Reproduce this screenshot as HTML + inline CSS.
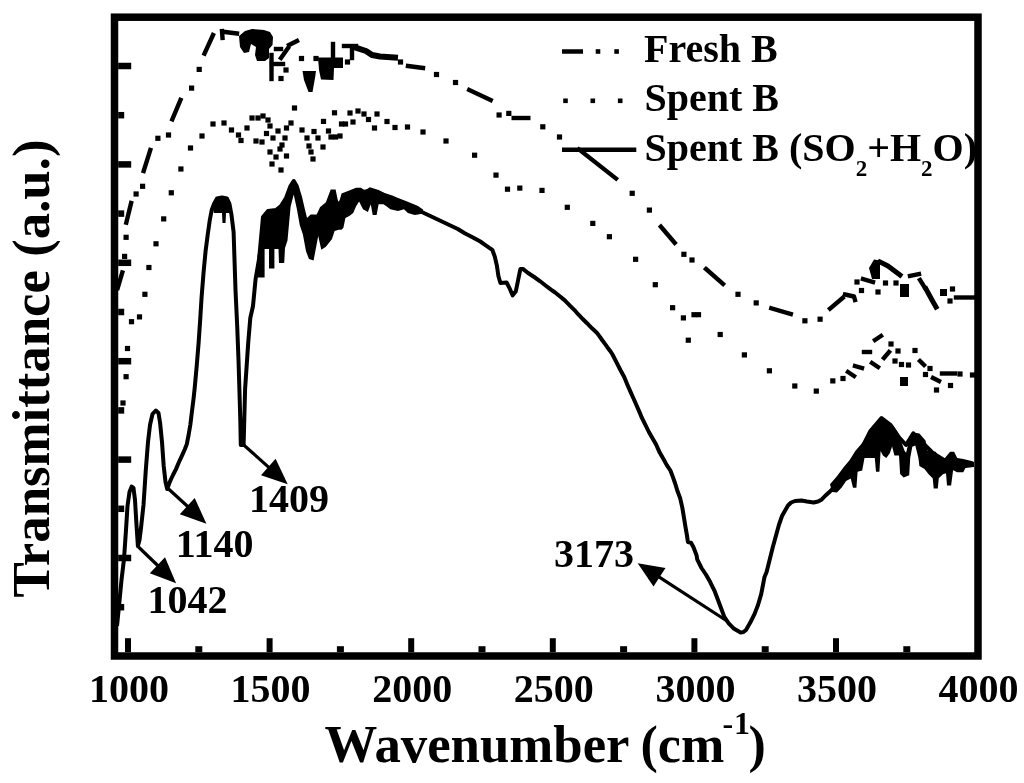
<!DOCTYPE html>
<html><head><meta charset="utf-8"><style>
html,body{margin:0;padding:0;background:#fff;}
svg{display:block;will-change:transform;}
text{font-family:"Liberation Serif",serif;font-weight:bold;fill:#000;}
</style></head><body>
<svg width="1024" height="783" viewBox="0 0 1024 783">
<rect x="0" y="0" width="1024" height="783" fill="#fff"/>
<polyline points="117,626 119,606 121.5,580 124,559 126,530 127.5,506 129.5,492 131.7,486.5 133.5,488 135,500 136.5,525 137.9,546 139.5,540 141,528 143.5,505 145.8,470 148,442 150,425 152.5,414 155.8,410.5 158.5,413 160.1,423 162,442 163.7,466 165.5,482 167.2,489 170,481.4 173,475 176,469.1 179,462 182.1,455.3 184.7,449.5 186.7,444.6 188.6,435 190.3,425 192,411 193.4,400 194.6,389 196.8,365 198.6,343 200.3,318 201.6,297 203.6,272 205.6,251 207.8,234 209.8,220 211.7,210 214,204 217,198.5 222,197.5 227,198.5 229.5,204 231.5,215 233.6,232 235.5,290 237.2,326 238.5,360 239.5,393 240.3,420 240.8,445 243.6,445 243.9,434 245.1,389 248.2,343 250.3,318 253,306 255.6,279 259.2,258 262.8,219 263,217 268,211 276,210 281,206 286,198 290.5,186 293.7,181 296.7,186 300,197 303,210 306,222 310,225 316,226 322,214 329,206 334,198 338,205 344,199 356,193 369,191 381.6,194 394.3,200.6 407,206.5 419.7,211 432.4,217 445.1,223 457.8,229 464.7,233.3 472.5,237.2 480.3,241.5 486.5,245.8 492.3,249.8 494.8,256.6 496.9,265.8 498.4,276 500.4,283 506.6,282.5 509.1,287.3 512.7,295.4 515.8,291.3 518.3,279.1 520.4,269 522.9,268.9 528.1,273 534.2,277 540.2,281.3 545.5,285.5 551,289.7 555.1,292.5 559.2,295.8 564.8,300.4 570.4,306.1 575.5,311.2 578.1,314.2 583,319.3 587,323.2 592,328.3 596.8,332.7 599.4,336.1 602.1,340 604.6,343.4 607.3,347.2 610,350.7 612.5,354.5 616.5,362.3 620.4,370 624.2,377 627.3,384.5 630.3,391.4 633.4,398.3 636.5,405.2 639.5,412.1 641.8,417.7 645.4,424.8 648.9,432 652.5,438.3 656.1,444.5 659.7,452.6 663.3,458.8 666.8,465.1 670.4,470.5 673.1,477.6 675,483 677.2,490.2 680.2,498.4 682.3,507.6 683.8,516.7 685.3,525.9 686.9,535.1 687.9,542 691,542.8 693.5,547.3 696.6,555.5 697.2,559.3 701.5,568 705.9,574.5 710.2,582.1 714.5,590.8 717.8,599.5 721.1,608.2 724.3,616.9 728.7,623.4 734.1,628.8 740.6,632.6 743.5,632 746,630 750.4,622.3 754.7,613.6 758,605 761.2,594.1 764.5,577 766.6,572 772.7,547.5 778.9,525 782,516 785,510.7 788,505.5 791.1,502.5 795,501 801.3,500.5 807,501.5 813.6,502.5 818,501.5 821.8,499.4 825,496 830,491.5 835,486 841.5,477 851.8,462 862,447.7 870.2,431.3 881.5,418 890.7,425.1 899,437.4 906,445 913.3,433.3 923.6,443.6 933.8,453.8 944,460 954.3,462 974,464" fill="none" stroke="#000" stroke-width="4" stroke-linejoin="round"/>
<polygon points="262,240 262.8,218.6 263,217 268.4,210 272.2,209 276.8,210 281.4,205 286,197.6 290.6,185.3 293.7,180.7 296.7,185.3 299.8,196 302.9,210 304.4,220.6 310.6,214.5 316.7,214.5 320,207.2 325.9,202.3 330.7,189.6 335.6,189.6 338.6,204.3 341.5,193.6 349.3,190.6 356.1,187.7 361,187.7 364.9,190.6 369.8,187.2 378.6,190.1 384.5,193.1 392.3,195.5 398.1,198 405.9,200.9 413.8,204.3 418,206 423,209.5 423,213.5 418,214.5 414.7,215 407.9,213.1 404,209.2 398.1,211.1 390.3,209.2 386.4,206.3 383.5,204.3 378.6,204.3 376.6,215 372.7,215 370.8,204.3 367.9,212.1 363,209.2 359.1,201.4 356.1,206.3 353.2,213.1 349.3,216 345.4,218 343.4,227.7 341.5,229.7 338.6,229.7 334.6,231 332,239 325.9,246.7 321.3,249.8 318.2,236 313.6,260.5 309,259 306,251.3 302.9,234.4 299.8,225.2 296.7,208.3 293.7,194.5 290.6,206.8 287.5,240.6 285,248 284.2,263 279,263 278.5,249 274.4,249 274.4,268.6 269,268.6 269,249 264.6,249 264.6,277.5 257.4,277.5 257.4,256 262,240" fill="#000"/>
<polygon points="212,206 217,197 228,197 229.5,205 229.5,213 226,213 225.5,223 222.5,223 222,213 214,213" fill="#000"/>
<polygon points="830,484.3 836.9,476.3 843.8,467.1 849.5,460.2 855.3,451 862.2,442.9 867.9,434.9 872.5,425.7 878.3,422.2 881.7,416.5 886.3,422.2 893.2,425.7 897.8,432.6 901.3,441.8 904.7,451 906.1,452.8 910.2,435.4 913.3,432.4 919.4,433.4 925.5,440.5 927.6,450.8 935.8,451.8 938.8,457.9 944.9,457.9 950.1,451.8 954.1,451.8 957.2,457.9 963.3,458.9 971.5,461 974,462 974,467.1 965.4,468.1 963.3,472.2 957.2,472.2 953.1,470.2 951.1,485.5 947,485.5 946,473.2 942.9,474.2 938.8,478.3 937.8,488.5 933.7,488.5 932.7,478.3 928.6,474.2 924.5,469.1 919.4,466.1 918.4,457.9 915.3,445.6 912.3,446.7 910.2,457.9 909.2,475.3 903.6,477.4 900.1,474 899,455.6 894.4,455.6 892.1,446.4 889.8,453.3 886.3,457.9 882.9,455.6 880.6,451 879.4,471.7 876,471.7 874.8,457.9 864.5,457.9 862.2,470.5 857.6,471.7 856.4,487.8 853,487.8 850.7,478.6 846.1,480.9 841.5,487.8 836.9,492.4 832,492" fill="#000"/>
<polyline points="117.7,288 122.3,272.5" fill="none" stroke="#000" stroke-width="4.4" stroke-linecap="square" stroke-linejoin="round"/>
<rect x="122" y="253.8" width="5.2" height="5.2"/>
<rect x="123.5" y="234.7" width="5.2" height="5.2"/>
<polyline points="126.3,222.7 131.1,203" fill="none" stroke="#000" stroke-width="4.4" stroke-linecap="square" stroke-linejoin="round"/>
<rect x="133.5" y="191.4" width="5.2" height="5.2"/>
<rect x="140" y="183.7" width="5.2" height="5.2"/>
<polyline points="143.7,171 150.3,150" fill="none" stroke="#000" stroke-width="4.4" stroke-linecap="square" stroke-linejoin="round"/>
<rect x="155.3" y="135.7" width="5.2" height="5.2"/>
<rect x="165.9" y="132.4" width="5.2" height="5.2"/>
<polyline points="172.3,119.3 180.5,100" fill="none" stroke="#000" stroke-width="4.4" stroke-linecap="square" stroke-linejoin="round"/>
<rect x="189" y="85.5" width="5.2" height="5.2"/>
<rect x="196.6" y="66.8" width="5.2" height="5.2"/>
<polyline points="204.5,53.7 213,35" fill="none" stroke="#000" stroke-width="4.4" stroke-linecap="square" stroke-linejoin="round"/>
<polyline points="222,31 222.5,38" fill="none" stroke="#000" stroke-width="4.4" stroke-linecap="square" stroke-linejoin="round"/>
<polyline points="225,32 237,33.5" fill="none" stroke="#000" stroke-width="4.4" stroke-linecap="square" stroke-linejoin="round"/>
<polygon points="239,36 245,31 252,29 258,29.5 264,30 270,32 273,37 272.5,45 269,49 269,58 265,61 257,61 255,55 256,47 251,44 249,52 244,53 240,47"/>
<polyline points="271.5,55 271.5,79" fill="none" stroke="#000" stroke-width="4.4" stroke-linecap="square" stroke-linejoin="round"/>
<polyline points="272,64 283,64" fill="none" stroke="#000" stroke-width="4.4" stroke-linecap="square" stroke-linejoin="round"/>
<polyline points="281,58 288,48" fill="none" stroke="#000" stroke-width="4.4" stroke-linecap="square" stroke-linejoin="round"/>
<polyline points="276,49 281,49" fill="none" stroke="#000" stroke-width="4.4" stroke-linecap="square" stroke-linejoin="round"/>
<rect x="283.4" y="67.4" width="5.2" height="5.2"/>
<rect x="278.4" y="75.9" width="5.2" height="5.2"/>
<polyline points="289,45 297,41" fill="none" stroke="#000" stroke-width="4.4" stroke-linecap="square" stroke-linejoin="round"/>
<rect x="298.9" y="55.9" width="5.2" height="5.2"/>
<polygon points="302.5,71 316,71 315,78 312.5,92 308.5,92 304,80"/>
<rect x="313.4" y="55.9" width="5.2" height="5.2"/>
<polygon points="318,57.5 343,57.5 343,68 334,68 333.5,80 321,79.5 319,70"/>
<polyline points="333,44 333,58" fill="none" stroke="#000" stroke-width="4.4" stroke-linecap="square" stroke-linejoin="round"/>
<rect x="344.9" y="59.4" width="5.2" height="5.2"/>
<polyline points="344,46 356,46" fill="none" stroke="#000" stroke-width="4.4" stroke-linecap="square" stroke-linejoin="round"/>
<polyline points="352,48 352,58" fill="none" stroke="#000" stroke-width="4.4" stroke-linecap="square" stroke-linejoin="round"/>
<polyline points="357,48 366,51 372,55 380,56.5 395,57.5" fill="none" stroke="#000" stroke-width="6" stroke-linecap="square" stroke-linejoin="round"/>
<rect x="397.9" y="59.4" width="5.2" height="5.2"/>
<polyline points="408,66 423,68" fill="none" stroke="#000" stroke-width="4.4" stroke-linecap="square" stroke-linejoin="round"/>
<rect x="433.9" y="71.9" width="5.2" height="5.2"/>
<rect x="452.9" y="79.9" width="5.2" height="5.2"/>
<polyline points="469.2,90 490.7,100" fill="none" stroke="#000" stroke-width="4.4" stroke-linecap="square" stroke-linejoin="round"/>
<rect x="496.5" y="112.4" width="5.2" height="5.2"/>
<rect x="506.2" y="110.8" width="5.2" height="5.2"/>
<polyline points="513.7,118 528.3,118" fill="none" stroke="#000" stroke-width="4.4" stroke-linecap="square" stroke-linejoin="round"/>
<rect x="540.2" y="124.2" width="5.2" height="5.2"/>
<rect x="556.9" y="134.4" width="5.2" height="5.2"/>
<polyline points="579,149.5 616,178.5" fill="none" stroke="#000" stroke-width="4.4" stroke-linecap="square" stroke-linejoin="round"/>
<rect x="629.6" y="190.7" width="5.2" height="5.2"/>
<rect x="646.8" y="207.5" width="5.2" height="5.2"/>
<polyline points="660.9,226.7 674.7,242.8" fill="none" stroke="#000" stroke-width="4.4" stroke-linecap="square" stroke-linejoin="round"/>
<rect x="681.3" y="251.7" width="5.2" height="5.2"/>
<rect x="689.4" y="257.4" width="5.2" height="5.2"/>
<polyline points="706,269 723,284" fill="none" stroke="#000" stroke-width="4.4" stroke-linecap="square" stroke-linejoin="round"/>
<rect x="735.4" y="291.7" width="5.2" height="5.2"/>
<rect x="753.6" y="300.3" width="5.2" height="5.2"/>
<polyline points="771.3,308.3 790.8,314" fill="none" stroke="#000" stroke-width="4.4" stroke-linecap="square" stroke-linejoin="round"/>
<rect x="802.3" y="318.2" width="5.2" height="5.2"/>
<rect x="817.5" y="316.6" width="5.2" height="5.2"/>
<polyline points="830,308.6 842.7,297.9" fill="none" stroke="#000" stroke-width="4.4" stroke-linecap="square" stroke-linejoin="round"/>
<polyline points="845,294.5 854,296.5 855,300" fill="none" stroke="#000" stroke-width="4.4" stroke-linecap="square" stroke-linejoin="round"/>
<rect x="854.4" y="279.4" width="5.2" height="5.2"/>
<rect x="858.9" y="287.9" width="5.2" height="5.2"/>
<polyline points="863,279 873,282" fill="none" stroke="#000" stroke-width="4.4" stroke-linecap="square" stroke-linejoin="round"/>
<polygon points="869,268 874,259.5 880,260.5 880,279 872,279"/>
<polyline points="880,262 888,266 900,275" fill="none" stroke="#000" stroke-width="5" stroke-linecap="square" stroke-linejoin="round"/>
<rect x="875.4" y="289.4" width="5.2" height="5.2"/>
<rect x="882.9" y="280.4" width="5.2" height="5.2"/>
<rect x="893.4" y="280.4" width="5.2" height="5.2"/>
<polygon points="900,284 909,284 909,297 900,297"/>
<polyline points="910,276 919,274" fill="none" stroke="#000" stroke-width="4.4" stroke-linecap="square" stroke-linejoin="round"/>
<polyline points="920,280 925,288" fill="none" stroke="#000" stroke-width="4.4" stroke-linecap="square" stroke-linejoin="round"/>
<polyline points="926,289 932,300 936,307" fill="none" stroke="#000" stroke-width="5" stroke-linecap="square" stroke-linejoin="round"/>
<polygon points="940,289 947,289 947,296 940,296"/>
<rect x="947.4" y="298.4" width="5.2" height="5.2"/>
<rect x="949.9" y="286.4" width="5.2" height="5.2"/>
<polyline points="956,297.5 974,297.5" fill="none" stroke="#000" stroke-width="4.4" stroke-linecap="square" stroke-linejoin="round"/>
<rect x="120.4" y="400.4" width="5.2" height="5.2"/>
<rect x="123.5" y="374.1" width="5.2" height="5.2"/>
<rect x="124.9" y="345.9" width="5.2" height="5.2"/>
<rect x="128.9" y="319.1" width="5.2" height="5.2"/>
<rect x="136.9" y="314.3" width="5.2" height="5.2"/>
<rect x="142.3" y="291.7" width="5.2" height="5.2"/>
<rect x="146.3" y="264.9" width="5.2" height="5.2"/>
<rect x="153.4" y="241.2" width="5.2" height="5.2"/>
<rect x="161.1" y="216.3" width="5.2" height="5.2"/>
<rect x="168.7" y="190.2" width="5.2" height="5.2"/>
<rect x="178.3" y="166.4" width="5.2" height="5.2"/>
<rect x="187.9" y="145.4" width="5.2" height="5.2"/>
<rect x="199.4" y="133.4" width="5.2" height="5.2"/>
<rect x="210.4" y="121.4" width="5.2" height="5.2"/>
<rect x="221.4" y="120.4" width="5.2" height="5.2"/>
<rect x="228.9" y="127.4" width="5.2" height="5.2"/>
<rect x="235.9" y="132.4" width="5.2" height="5.2"/>
<rect x="238.4" y="137.9" width="5.2" height="5.2"/>
<rect x="244.4" y="125.4" width="5.2" height="5.2"/>
<rect x="249.4" y="115.4" width="5.2" height="5.2"/>
<rect x="255.4" y="115.4" width="5.2" height="5.2"/>
<rect x="260.4" y="113.4" width="5.2" height="5.2"/>
<rect x="265.4" y="117.4" width="5.2" height="5.2"/>
<rect x="267.4" y="123.4" width="5.2" height="5.2"/>
<rect x="253.4" y="138.4" width="5.2" height="5.2"/>
<rect x="259.4" y="139.4" width="5.2" height="5.2"/>
<rect x="263.9" y="130.9" width="5.2" height="5.2"/>
<rect x="270.4" y="135.4" width="5.2" height="5.2"/>
<rect x="275.4" y="128.4" width="5.2" height="5.2"/>
<rect x="283.9" y="125.4" width="5.2" height="5.2"/>
<rect x="288.4" y="120.4" width="5.2" height="5.2"/>
<rect x="282.4" y="135.4" width="5.2" height="5.2"/>
<rect x="279.4" y="142.4" width="5.2" height="5.2"/>
<rect x="277.4" y="146.4" width="5.2" height="5.2"/>
<rect x="267.4" y="149.4" width="5.2" height="5.2"/>
<rect x="273.4" y="154.4" width="5.2" height="5.2"/>
<rect x="283.9" y="153.4" width="5.2" height="5.2"/>
<rect x="269.4" y="161.4" width="5.2" height="5.2"/>
<rect x="278.4" y="167.4" width="5.2" height="5.2"/>
<rect x="291.9" y="105.4" width="5.2" height="5.2"/>
<rect x="299.4" y="127.4" width="5.2" height="5.2"/>
<rect x="304.4" y="135.4" width="5.2" height="5.2"/>
<rect x="306.4" y="143.4" width="5.2" height="5.2"/>
<rect x="308.4" y="149.4" width="5.2" height="5.2"/>
<rect x="310.4" y="156.4" width="5.2" height="5.2"/>
<rect x="311.4" y="128.9" width="5.2" height="5.2"/>
<rect x="315.4" y="135.4" width="5.2" height="5.2"/>
<rect x="320.4" y="144.4" width="5.2" height="5.2"/>
<rect x="320.9" y="118.8" width="5.2" height="5.2"/>
<rect x="325.9" y="128.4" width="5.2" height="5.2"/>
<rect x="328.4" y="134.4" width="5.2" height="5.2"/>
<rect x="332.9" y="134.4" width="5.2" height="5.2"/>
<rect x="337.4" y="133.4" width="5.2" height="5.2"/>
<rect x="331.9" y="110.2" width="5.2" height="5.2"/>
<rect x="338.9" y="121.4" width="5.2" height="5.2"/>
<rect x="342.9" y="121.4" width="5.2" height="5.2"/>
<rect x="347.4" y="110.4" width="5.2" height="5.2"/>
<rect x="350.4" y="119.4" width="5.2" height="5.2"/>
<rect x="355.4" y="108.4" width="5.2" height="5.2"/>
<rect x="361.4" y="111.4" width="5.2" height="5.2"/>
<rect x="365.9" y="116.9" width="5.2" height="5.2"/>
<rect x="371.9" y="125.4" width="5.2" height="5.2"/>
<rect x="374.4" y="111.4" width="5.2" height="5.2"/>
<rect x="384.4" y="118.9" width="5.2" height="5.2"/>
<rect x="392.4" y="124.9" width="5.2" height="5.2"/>
<rect x="404.9" y="124.4" width="5.2" height="5.2"/>
<rect x="420.4" y="129.4" width="5.2" height="5.2"/>
<rect x="443.4" y="138.4" width="5.2" height="5.2"/>
<rect x="472" y="152.6" width="5.2" height="5.2"/>
<rect x="493.4" y="172.5" width="5.2" height="5.2"/>
<rect x="504.9" y="186.6" width="5.2" height="5.2"/>
<rect x="517.2" y="185.5" width="5.2" height="5.2"/>
<rect x="539.4" y="187.8" width="5.2" height="5.2"/>
<rect x="564.7" y="204.7" width="5.2" height="5.2"/>
<rect x="590.2" y="220.8" width="5.2" height="5.2"/>
<rect x="606.8" y="234.1" width="5.2" height="5.2"/>
<rect x="633" y="256.7" width="5.2" height="5.2"/>
<rect x="652.7" y="282.1" width="5.2" height="5.2"/>
<rect x="670" y="305.1" width="5.2" height="5.2"/>
<rect x="680.8" y="315.3" width="5.2" height="5.2"/>
<rect x="691.4" y="312.1" width="5.2" height="5.2"/>
<rect x="695.9" y="312.1" width="5.2" height="5.2"/>
<rect x="685.7" y="337.6" width="5.2" height="5.2"/>
<rect x="717.6" y="331.9" width="5.2" height="5.2"/>
<rect x="741.8" y="352.3" width="5.2" height="5.2"/>
<rect x="766.8" y="368.2" width="5.2" height="5.2"/>
<rect x="792.2" y="383.4" width="5.2" height="5.2"/>
<rect x="813.7" y="388.5" width="5.2" height="5.2"/>
<rect x="830.2" y="378.3" width="5.2" height="5.2"/>
<rect x="840.4" y="375.9" width="5.2" height="5.2"/>
<rect x="888.4" y="341.4" width="5.2" height="5.2"/>
<rect x="895.4" y="348.4" width="5.2" height="5.2"/>
<rect x="892.4" y="358.4" width="5.2" height="5.2"/>
<rect x="898.9" y="361.9" width="5.2" height="5.2"/>
<rect x="905.9" y="362.4" width="5.2" height="5.2"/>
<rect x="912.4" y="347.9" width="5.2" height="5.2"/>
<rect x="927.4" y="365.9" width="5.2" height="5.2"/>
<rect x="922.9" y="371.9" width="5.2" height="5.2"/>
<rect x="933.9" y="387.4" width="5.2" height="5.2"/>
<rect x="957.4" y="371.4" width="5.2" height="5.2"/>
<rect x="947.9" y="382.9" width="5.2" height="5.2"/>
<rect x="969.9" y="372.4" width="5.2" height="5.2"/>
<polyline points="848,372 854,376" fill="none" stroke="#000" stroke-width="4.4" stroke-linecap="square" stroke-linejoin="round"/>
<polyline points="855,366 862,368" fill="none" stroke="#000" stroke-width="4.4" stroke-linecap="square" stroke-linejoin="round"/>
<polyline points="864,352 870,352" fill="none" stroke="#000" stroke-width="4.4" stroke-linecap="square" stroke-linejoin="round"/>
<polyline points="875,340 881,336" fill="none" stroke="#000" stroke-width="4.4" stroke-linecap="square" stroke-linejoin="round"/>
<polyline points="872,363 878,367" fill="none" stroke="#000" stroke-width="4.4" stroke-linecap="square" stroke-linejoin="round"/>
<polyline points="884,358 889,352" fill="none" stroke="#000" stroke-width="4.4" stroke-linecap="square" stroke-linejoin="round"/>
<polyline points="920,361 924,365" fill="none" stroke="#000" stroke-width="4.4" stroke-linecap="square" stroke-linejoin="round"/>
<polyline points="933,378 939,381" fill="none" stroke="#000" stroke-width="4.4" stroke-linecap="square" stroke-linejoin="round"/>
<polyline points="942,373.5 955,373.5" fill="none" stroke="#000" stroke-width="4.4" stroke-linecap="square" stroke-linejoin="round"/>
<polygon points="900,377 908,377 908,386 900,386"/>
<line x1="167.5" y1="488" x2="190.2" y2="508.8" stroke="#000" stroke-width="3.2"/><polygon points="206.4,523.7 179.8,514.2 194.7,498"/>
<line x1="138.5" y1="547" x2="160.3" y2="568" stroke="#000" stroke-width="3.2"/><polygon points="176.1,583.3 149.8,573.2 165,557.3"/>
<line x1="241.5" y1="443" x2="271.3" y2="469.6" stroke="#000" stroke-width="3.2"/><polygon points="287.7,484.3 261,475.2 275.6,458.8"/>
<line x1="727" y1="621" x2="656.2" y2="575.2" stroke="#000" stroke-width="3.2"/><polygon points="637.7,563.2 665.5,568.1 653.5,586.6"/>
<rect x="114.5" y="17.2" width="863.5" height="638.8" fill="none" stroke="#000" stroke-width="7.5"/>
<line x1="128" y1="652.2" x2="128" y2="638.2" stroke="#000" stroke-width="6"/>
<line x1="198.8" y1="652.2" x2="198.8" y2="646.2" stroke="#000" stroke-width="7"/>
<line x1="269.6" y1="652.2" x2="269.6" y2="638.2" stroke="#000" stroke-width="6"/>
<line x1="340.4" y1="652.2" x2="340.4" y2="646.2" stroke="#000" stroke-width="7"/>
<line x1="411.2" y1="652.2" x2="411.2" y2="638.2" stroke="#000" stroke-width="6"/>
<line x1="482" y1="652.2" x2="482" y2="646.2" stroke="#000" stroke-width="7"/>
<line x1="552.8" y1="652.2" x2="552.8" y2="638.2" stroke="#000" stroke-width="6"/>
<line x1="623.6" y1="652.2" x2="623.6" y2="646.2" stroke="#000" stroke-width="7"/>
<line x1="694.4" y1="652.2" x2="694.4" y2="638.2" stroke="#000" stroke-width="6"/>
<line x1="765.2" y1="652.2" x2="765.2" y2="646.2" stroke="#000" stroke-width="7"/>
<line x1="836" y1="652.2" x2="836" y2="638.2" stroke="#000" stroke-width="6"/>
<line x1="906.8" y1="652.2" x2="906.8" y2="646.2" stroke="#000" stroke-width="7"/>
<line x1="118.2" y1="66" x2="131.2" y2="66" stroke="#000" stroke-width="6.5"/>
<line x1="118.2" y1="115.2" x2="124.2" y2="115.2" stroke="#000" stroke-width="6.5"/>
<line x1="118.2" y1="164.4" x2="131.2" y2="164.4" stroke="#000" stroke-width="6.5"/>
<line x1="118.2" y1="213.6" x2="124.2" y2="213.6" stroke="#000" stroke-width="6.5"/>
<line x1="118.2" y1="262.8" x2="131.2" y2="262.8" stroke="#000" stroke-width="6.5"/>
<line x1="118.2" y1="312" x2="124.2" y2="312" stroke="#000" stroke-width="6.5"/>
<line x1="118.2" y1="361.2" x2="131.2" y2="361.2" stroke="#000" stroke-width="6.5"/>
<line x1="118.2" y1="410.4" x2="124.2" y2="410.4" stroke="#000" stroke-width="6.5"/>
<line x1="118.2" y1="459.6" x2="131.2" y2="459.6" stroke="#000" stroke-width="6.5"/>
<line x1="118.2" y1="508.8" x2="124.2" y2="508.8" stroke="#000" stroke-width="6.5"/>
<line x1="118.2" y1="558" x2="131.2" y2="558" stroke="#000" stroke-width="6.5"/>
<line x1="118.2" y1="607.2" x2="124.2" y2="607.2" stroke="#000" stroke-width="6.5"/>
<line x1="562" y1="51.5" x2="583" y2="51.5" stroke="#000" stroke-width="4.5"/>
<rect x="595.7" y="49.2" width="4.6" height="4.6"/>
<rect x="614.3" y="49.2" width="4.6" height="4.6"/>
<rect x="563.2" y="98.5" width="4.6" height="4.6"/>
<rect x="590.5" y="98.5" width="4.6" height="4.6"/>
<rect x="617.9" y="98.5" width="4.6" height="4.6"/>
<line x1="562" y1="149.8" x2="636.3" y2="149.8" stroke="#000" stroke-width="4.5"/>
<text x="129" y="702" text-anchor="middle" font-size="40">1000</text>
<text x="270.6" y="702" text-anchor="middle" font-size="40">1500</text>
<text x="412.2" y="702" text-anchor="middle" font-size="40">2000</text>
<text x="553.8" y="702" text-anchor="middle" font-size="40">2500</text>
<text x="695.4" y="702" text-anchor="middle" font-size="40">3000</text>
<text x="837" y="702" text-anchor="middle" font-size="40">3500</text>
<text x="978.6" y="702" text-anchor="middle" font-size="40">4000</text>
<text x="644" y="62" font-size="40">Fresh B</text>
<text x="644.5" y="110.5" font-size="40">Spent B</text>
<text x="644.5" y="160.7" font-size="40">Spent B (SO<tspan font-size="23" dy="15">2</tspan><tspan dy="-15">+H</tspan><tspan font-size="23" dy="15">2</tspan><tspan dy="-15">O)</tspan></text>
<text x="249" y="512" font-size="40">1409</text>
<text x="175.8" y="557" font-size="40">1140</text>
<text x="147.5" y="612.5" font-size="40">1042</text>
<text x="554" y="567" font-size="40">3173</text>
<text x="324.5" y="762" font-size="52.8">Wavenumber</text>
<text x="640.6" y="762" font-size="52">(</text>
<text x="657.8" y="762" font-size="52">cm</text>
<text x="722.5" y="734.4" font-size="32">-</text>
<text x="734" y="734.4" font-size="32">1</text>
<text x="748.5" y="762" font-size="52">)</text>
<text transform="translate(48.6,597.5) rotate(-90)" font-size="52.8">Transmittance (a.u.)</text>
</svg>
</body></html>
